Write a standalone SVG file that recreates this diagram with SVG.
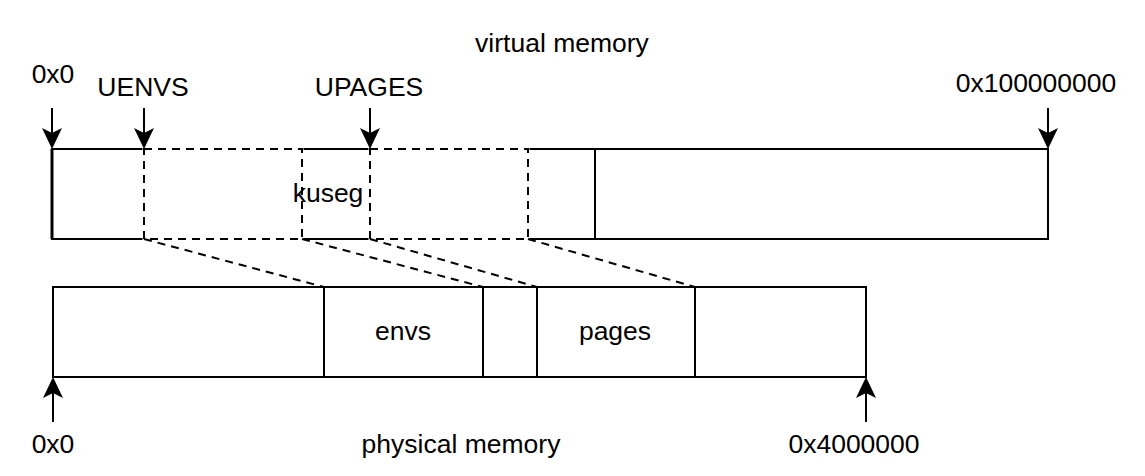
<svg xmlns="http://www.w3.org/2000/svg" width="1145" height="476" viewBox="0 0 1145 476">
<style>
.box{fill:none;stroke:#000;stroke-width:2}
.mask{fill:#fff;stroke:#fff;stroke-width:3}
.dash{fill:none;stroke:#000;stroke-width:2;stroke-dasharray:8 6}
.arr{stroke:#000;stroke-width:2;fill:none}
text{font-family:"Liberation Sans",Arial,sans-serif;font-size:26.5px;fill:#000}
.c{text-anchor:middle}
</style>
<defs>
<marker id="ah" markerUnits="userSpaceOnUse" markerWidth="24" markerHeight="24" viewBox="-22 -12 24 24" refX="-5" refY="0" orient="auto" overflow="visible">
<path d="M0,0 L-21,-10 L-16,0 L-21,10 Z" fill="#000"/>
</marker>
</defs>
<rect width="1145" height="476" fill="#fff"/>
<text class="c" x="562" y="52">virtual memory</text>
<text class="c" x="461" y="453">physical memory</text>
<g id="virtual">
<rect class="box" x="52" y="149" width="996" height="90"/>
</g>
<g id="kuseg-box">
<rect class="box" x="52" y="149" width="543" height="90"/>
<line x1="52" y1="149" x2="52" y2="239" stroke="#000" stroke-width="3"/>
</g>
<g id="uenvs-region">
<rect class="mask" x="144" y="149" width="158" height="90"/>
<rect class="dash" x="144" y="149" width="158" height="90"/>
</g>
<g id="upages-region">
<rect class="mask" x="370" y="149" width="158" height="90"/>
<rect class="dash" x="370" y="149" width="158" height="90"/>
</g>
<g id="kuseg">
<text class="c" x="328" y="202">kuseg</text>
</g>
<g id="physical">
<rect class="box" x="53" y="287" width="813" height="90"/>
</g>
<g id="envs">
<rect class="box" x="324" y="287" width="159" height="90"/>
<text class="c" x="403" y="340">envs</text>
</g>
<g id="gap">
<rect class="box" x="483" y="287" width="54" height="90"/>
</g>
<g id="pages">
<rect class="box" x="537" y="287" width="158" height="90"/>
<text class="c" x="615" y="340">pages</text>
</g>
<g id="labels">
<text class="c" x="53" y="83">0x0</text>
<text class="c" x="143" y="96">UENVS</text>
<text class="c" x="369" y="96">UPAGES</text>
<text class="c" x="1036" y="92">0x100000000</text>
<text class="c" x="53" y="453">0x0</text>
<text class="c" x="854" y="453">0x4000000</text>
</g>
<g id="connectors">
<line class="dash" x1="144" y1="239" x2="324" y2="287"/>
<line class="dash" x1="302" y1="239" x2="483" y2="287"/>
<line class="dash" x1="370" y1="239" x2="537" y2="287"/>
<line class="dash" x1="528" y1="239" x2="695" y2="287"/>
<line class="arr" x1="52" y1="108" x2="52" y2="144" marker-end="url(#ah)"/>
<line class="arr" x1="144" y1="108" x2="144" y2="144" marker-end="url(#ah)"/>
<line class="arr" x1="370" y1="108" x2="370" y2="144" marker-end="url(#ah)"/>
<line class="arr" x1="1048" y1="108" x2="1048" y2="144" marker-end="url(#ah)"/>
<line class="arr" x1="53" y1="422" x2="53" y2="382" marker-end="url(#ah)"/>
<line class="arr" x1="866" y1="422" x2="866" y2="382" marker-end="url(#ah)"/>
</g>
</svg>
